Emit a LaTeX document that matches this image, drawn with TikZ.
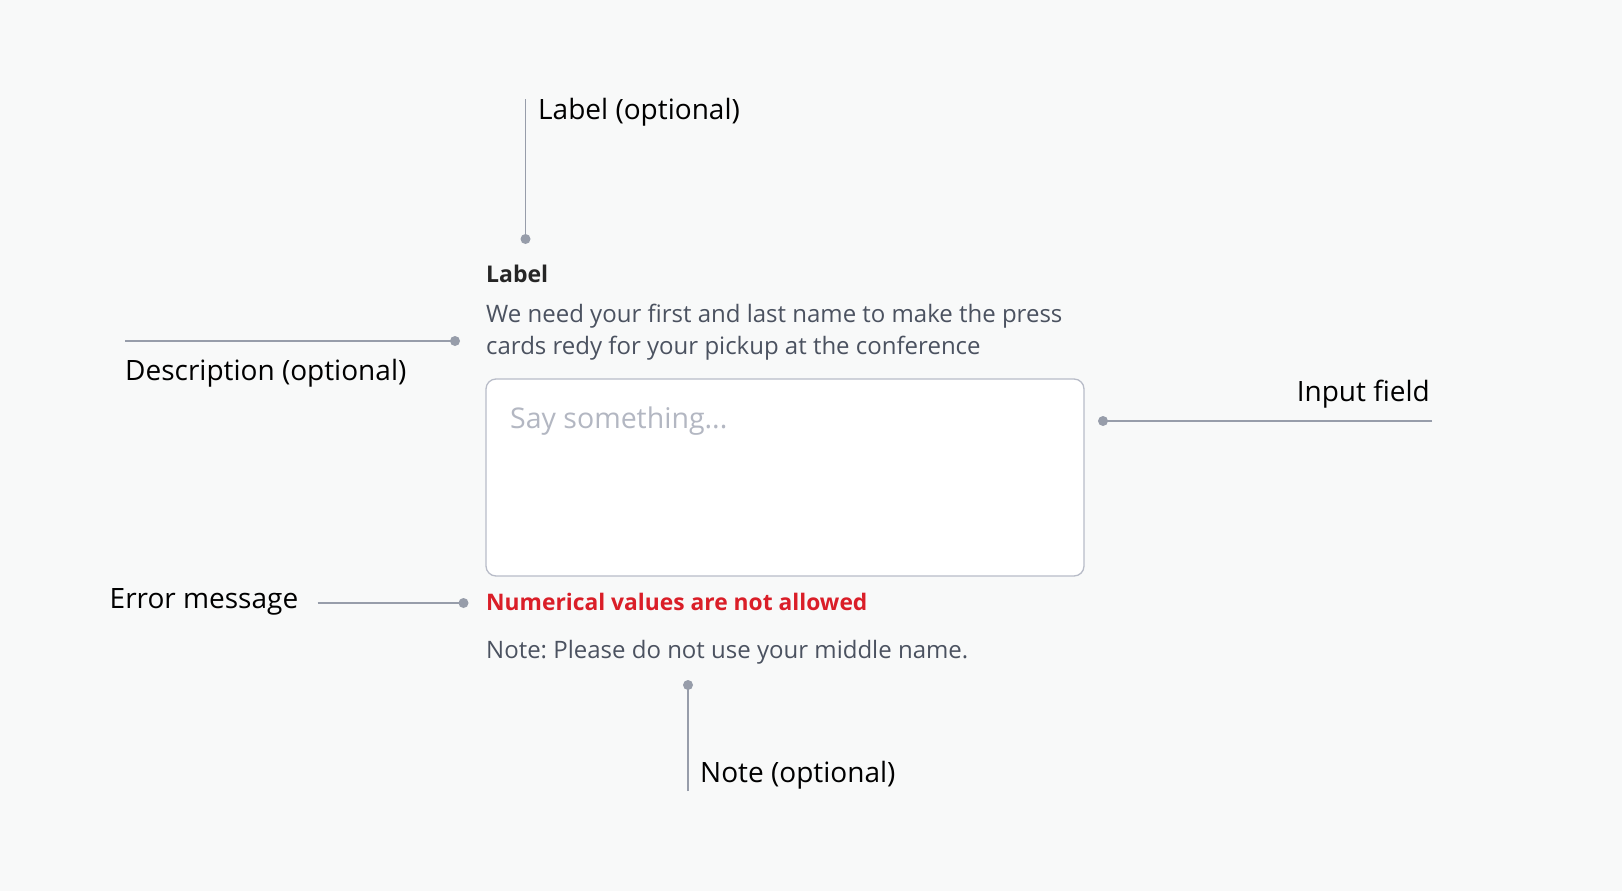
\documentclass[tikz,border=0pt]{standalone}
\usepackage{fontspec}
\setmainfont{Open Sans}
\usepackage{tikz}

\definecolor{bgpage}{HTML}{F8F9F9}
\definecolor{linegray}{HTML}{979DAA}
\definecolor{boxgray}{HTML}{B8BCC8}
\definecolor{holdergray}{HTML}{B3B7C2}
\definecolor{textgray}{HTML}{4B5260}
\definecolor{errred}{HTML}{DA1E28}

\begin{document}
\frenchspacing
\begin{tikzpicture}[x=1pt,y=-1pt,
    conn/.style={draw=linegray, line width=1.9pt},
    dot/.style={circle, fill=linegray, inner sep=0pt, minimum size=10pt},
    note/.style={inner sep=0pt, font=\fontsize{28}{34}\selectfont, text=black},
    body/.style={inner sep=0pt, anchor=west, font=\fontsize{24}{32}\selectfont, text=textgray}]
      \fill[bgpage] (0,0) rectangle (1622,891);
      \useasboundingbox (0,0) rectangle (1622,891);

      % the field itself
      \node[body, anchor=west, text=black!85, font=\fontsize{23}{28}\bfseries] (label) at (486,274) {Label};
      \node[body, anchor=north west, align=left] (descr) at (486,304) {We need your first and last name to make the press\\cards redy for your pickup at the conference};
      \draw[draw=boxgray, fill=white, line width=1.3pt, rounded corners=10pt] (486,379) rectangle (1084,576);
      \node[body, text=holdergray, font=\fontsize{28.5}{34}\selectfont] (holder) at (510,421) {Say something...};
      \node[body, text=errred, font=\fontsize{22.8}{28}\bfseries] (error) at (486,602) {Numerical values are not allowed};
      \node[body] (hint) at (486,652) {Note: Please do not use your middle name.};

      % callouts
      \node[dot] (labeldot) at (525.5,239) {};
      \coordinate (labeltop) at (525.5,99);
      \node[note, anchor=west] (labelnote) at (538,112) {Label (optional)};

      \node[dot] (descrdot) at (455,341) {};
      \coordinate (descrend) at (125,341);
      \node[note, anchor=west] (descrnote) at (125,373) {Description (optional)};

      \node[dot] (fielddot) at (1103,421) {};
      \coordinate (fieldend) at (1432,421);
      \node[note, anchor=east] (fieldnote) at (1430,394) {Input field};

      \node[dot] (errordot) at (463.5,603) {};
      \coordinate (errorend) at (317.5,603);
      \node[note, anchor=west] (errornote) at (109.5,602) {Error message};

      \node[dot] (hintdot) at (688,685) {};
      \coordinate (hintend) at (688,791);
      \node[note, anchor=west] (hintnote) at (700,775) {Note (optional)};

      \foreach \a/\b in {labeltop/labeldot, descrend/descrdot, fieldend/fielddot, errorend/errordot, hintend/hintdot}
        \draw[conn] (\a) -- (\b.center);
    \end{tikzpicture}
\end{document}
